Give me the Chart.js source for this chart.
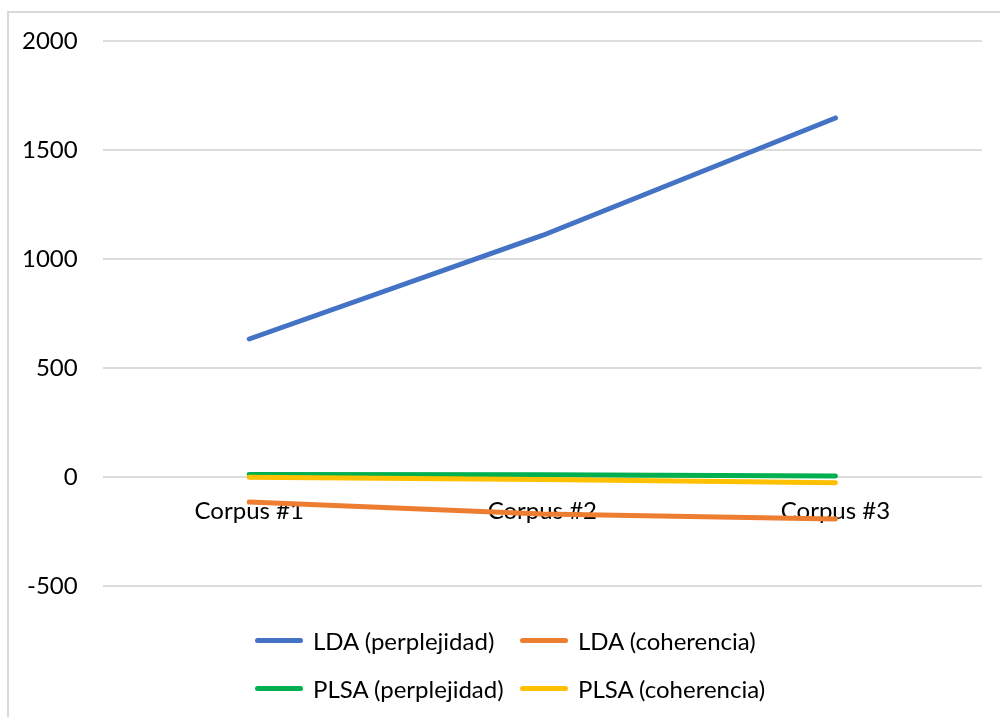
<!DOCTYPE html>
<html>
<head>
<meta charset="utf-8">
<script src="https://cdn.jsdelivr.net/npm/chart.js@4/dist/chart.umd.min.js"></script>
<style>
  html, body { margin: 0; padding: 0; background: #fff; overflow: hidden; }
  #frame {
    position: absolute; left: 7px; top: 11px; width: 1100px; height: 800px;
    border: 2px solid #d9d9d9; box-sizing: border-box;
  }
  #wrap { position: absolute; left: 0; top: 0; width: 1000px; height: 717px; }
  #legend {
    position: absolute; left: 255px; top: 616px;
    display: grid; grid-template-columns: 265px 265px; row-gap: 0;
    font-family: Lato, "Noto Sans", sans-serif; font-size: 24px; color: #000;
  }
  .item { display: flex; align-items: center; height: 48px; white-space: nowrap; }
  .sw { width: 48px; height: 5px; border-radius: 3px; margin-right: 10px; flex: none; }
</style>
</head>
<body>
<div id="frame"></div>
<div id="wrap"><canvas id="c" width="1000" height="717"></canvas></div>
<div id="legend"></div>
<script>
// Categories and series
const categories = ['Corpus #1', 'Corpus #2', 'Corpus #3'];
const ldaPerplejidad = [633, 1108, 1647];
const ldaCoherencia = [-115, -170, -193];
const plsaPerplejidad = [11, 10, 5];
const plsaCoherencia = [-1, -11, -26];
const seriesNames = ['LDA (perplejidad)', 'LDA (coherencia)', 'PLSA (perplejidad)', 'PLSA (coherencia)'];
const seriesColors = ['#4472C4', '#ED7D31', '#00B050', '#FFC000'];
const yTicks = [-500, 0, 500, 1000, 1500, 2000];

const FONT = 'Lato, "Noto Sans", sans-serif';
const seriesValues = [ldaPerplejidad, ldaCoherencia, plsaPerplejidad, plsaCoherencia];

const datasets = seriesValues.map((vals, i) => ({
  label: seriesNames[i],
  data: vals,
  borderColor: seriesColors[i],
  backgroundColor: seriesColors[i],
  borderWidth: 5,
  borderCapStyle: 'round',
  borderJoinStyle: 'round',
  pointRadius: 0,
  pointHoverRadius: 0,
  tension: 0,
  order: seriesValues.length - 1 - i  // later series drawn on top
}));

// Legend rendered as HTML from the chart's own legend items
const htmlLegend = {
  id: 'htmlLegend',
  afterUpdate(chart) {
    const box = document.getElementById('legend');
    box.innerHTML = '';
    const items = chart.options.plugins.legend.labels.generateLabels(chart)
      .sort((a, b) => a.datasetIndex - b.datasetIndex);
    items.forEach(it => {
      const row = document.createElement('div');
      row.className = 'item';
      const sw = document.createElement('span');
      sw.className = 'sw';
      sw.style.background = it.strokeStyle;
      const tx = document.createElement('span');
      tx.textContent = it.text;
      row.appendChild(sw);
      row.appendChild(tx);
      box.appendChild(row);
    });
  }
};

new Chart(document.getElementById('c'), {
  type: 'line',
  data: { labels: categories, datasets },
  plugins: [htmlLegend],
  options: {
    responsive: false,
    animation: false,
    layout: { padding: { left: -3, right: 18, top: 41, bottom: 131 } },
    plugins: { legend: { display: false }, tooltip: { enabled: false } },
    scales: {
      x: {
        position: { y: 0 },
        offset: true,
        grid: { display: false, drawTicks: false },
        border: { display: false },
        ticks: { color: '#000', font: { family: FONT, size: 24 }, padding: 20, maxRotation: 0 }
      },
      y: {
        min: -500,
        max: 2000,
        afterBuildTicks(scale) { scale.ticks = yTicks.map(v => ({ value: v })); },
        grid: { color: '#dcdcdc', lineWidth: 2, drawTicks: false },
        border: { display: false },
        ticks: {
          color: '#000', font: { family: FONT, size: 24 }, padding: 25,
          callback: v => String(v)
        }
      }
    }
  }
});
</script>
</body>
</html>
